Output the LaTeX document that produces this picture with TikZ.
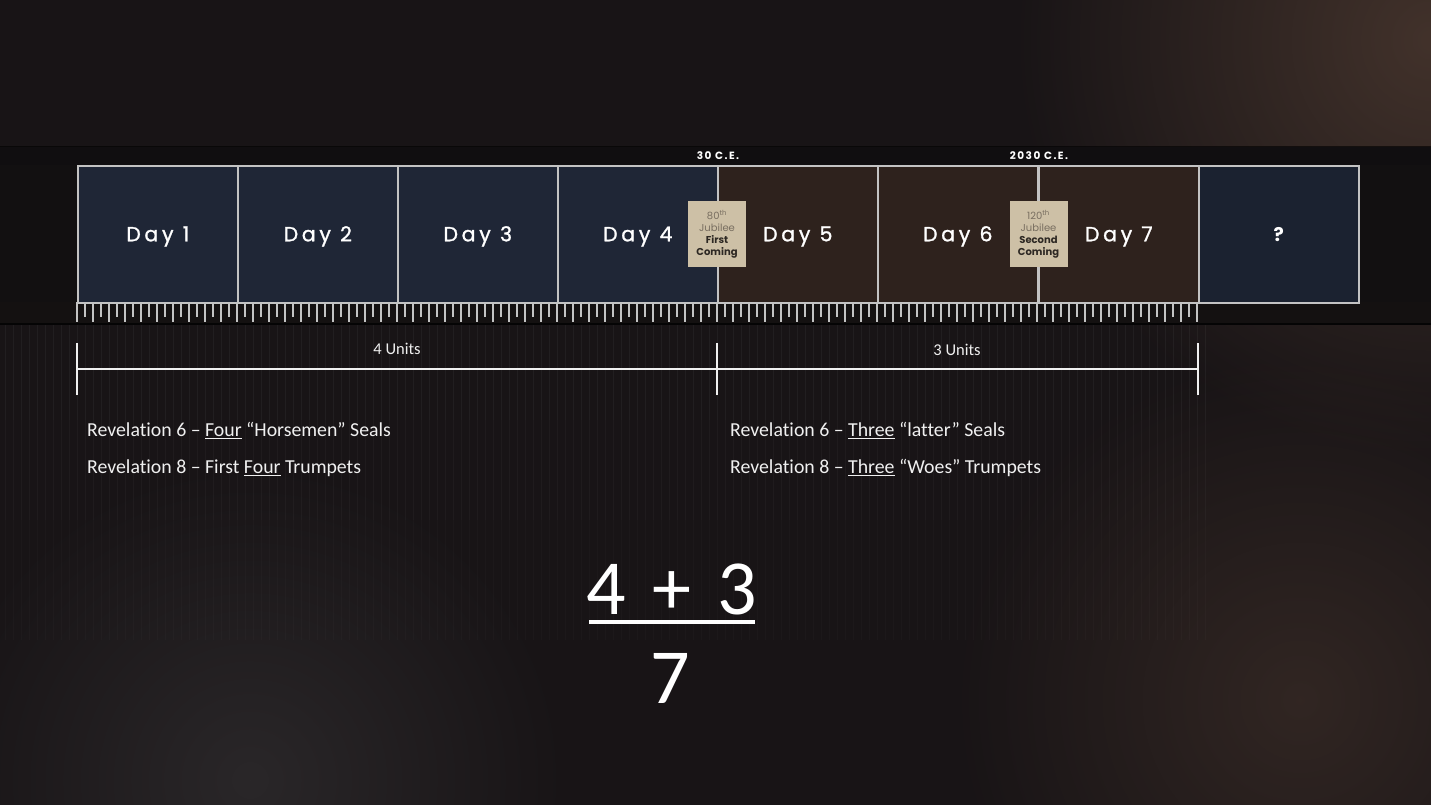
\documentclass[tikz,border=0pt]{standalone}
\usepackage{fontspec}
\setmainfont[Ligatures={NoCommon}]{Carlito}
\newfontfamily\dayfont[LetterSpace=18,FakeBold=1.2]{Poppins}
\newfontfamily\hdrfont[LetterSpace=14]{Poppins}
\newfontfamily\jubfont{Poppins}
\usetikzlibrary{fadings}
\tikzfading[name=radfade, inner color=transparent!0, outer color=transparent!100]
\definecolor{bgcol}{RGB}{24,20,22}
\definecolor{bandcol}{RGB}{18,16,17}
\definecolor{topstrip}{RGB}{16,14,16}
\definecolor{rulerstrip}{RGB}{20,17,17}
\definecolor{navy}{RGB}{31,38,54}
\definecolor{brownbox}{RGB}{46,34,29}
\definecolor{qnavy}{RGB}{27,34,48}
\definecolor{boxline}{RGB}{195,195,195}
\definecolor{tan}{RGB}{205,192,166}
\definecolor{tangray}{RGB}{120,110,96}
\definecolor{tandark}{RGB}{45,40,35}
\definecolor{txt}{RGB}{240,240,240}
\definecolor{glow}{RGB}{80,60,50}
\definecolor{fog}{RGB}{60,58,60}
\newcommand\myul[1]{\setbox0\hbox{#1}\rlap{\rule[-3.2pt]{\wd0}{1.6pt}}#1}
\begin{document}
\begin{tikzpicture}[x=1pt,y=-1pt,
  daybox/.style={draw=boxline, line width=1.6pt, minimum width=160pt, minimum height=137pt, inner sep=0pt, anchor=north west, text=white, text height=14pt, text depth=0pt, font=\dayfont\fontsize{20.5}{24}\selectfont},
  jub/.style={fill=tan, minimum width=58pt, minimum height=66pt, inner sep=0pt, align=center, font=\jubfont\fontsize{10}{12}\selectfont, text=tangray},
  hdr/.style={text=white, font=\hdrfont\bfseries\fontsize{10.5}{12}\selectfont, inner sep=0pt},
  tick/.style={draw=boxline, line width=1.3pt},
  brack/.style={draw=txt, line width=2.8pt},
  unitlab/.style={text=txt, font=\fontsize{16.5}{20}\selectfont, inner sep=0pt},
  rev/.style={text=txt, font=\fontsize{19.8}{24}\selectfont, inner sep=0pt, anchor=base west},
  big/.style={text=white, font=\fontsize{78}{90}\selectfont, inner sep=0pt, anchor=base}
]
\useasboundingbox (0,0) rectangle (1431,805);
% background
\fill[bgcol] (0,0) rectangle (1431,805);
\fill[glow, path fading=radfade, opacity=0.75] (1431,40) circle (420);
\fill[glow, path fading=radfade, opacity=0.45] (1300,700) circle (350);
\fill[fog, path fading=radfade, opacity=0.5] (250,780) circle (320);
% faint vertical texture
\foreach \i in {0,...,150}{
  \draw[white, opacity=0.045, line width=1pt] (5+8*\i,325) -- (5+8*\i,420);
  \draw[white, opacity=0.03, line width=1pt] (5+8*\i,420) -- (5+8*\i,520);
  \draw[white, opacity=0.018, line width=1pt] (5+8*\i,520) -- (5+8*\i,640);
}
% band
\fill[bandcol] (0,147) rectangle (1431,325);
\fill[topstrip] (0,147) rectangle (1431,165);
\fill[rulerstrip] (0,302) rectangle (1431,324);
\draw[black, opacity=0.6, line width=1pt] (0,147) -- (1431,147);
\draw[black, opacity=0.7, line width=1.2pt] (0,324) -- (1431,324);
% boxes
\node[daybox, fill=navy] (d1) at (77,165) {Day 1};
\node[daybox, fill=navy] (d2) at (237,165) {Day 2};
\node[daybox, fill=navy] (d3) at (397,165) {Day 3};
\node[daybox, fill=navy] (d4) at (557,165) {Day 4};
\node[daybox, fill=brownbox] (d5) at (717,165) {Day 5};
\node[daybox, fill=brownbox] (d6) at (877,165) {Day 6};
\node[daybox, fill=brownbox] (d7) at (1038,165) {Day 7};
\node[daybox, fill=qnavy, font=\jubfont\bfseries\fontsize{19}{22}\selectfont] (dq) at (1198,165) {?};
% jubilee boxes
\node[jub] (j1) at (717,234) {80\textsuperscript{th}\\Jubilee\\{\color{tandark}\bfseries First}\\{\color{tandark}\bfseries Coming}};
\node[jub] (j2) at (1038.5,234) {120\textsuperscript{th}\\Jubilee\\{\color{tandark}\bfseries Second}\\{\color{tandark}\bfseries Coming}};
% headers
\node[hdr] (h1) at (718,156) {30 C.E.};
\node[hdr] (h2) at (1039,156) {2030 C.E.};
% ruler ticks
\foreach \i in {0,...,140}{
  \ifodd\i
    \draw[tick] (77+8*\i,302) -- (77+8*\i,317);
  \else
    \draw[tick] (77+8*\i,302) -- (77+8*\i,322);
  \fi
}
% bracket
\coordinate (bL) at (77,369);
\coordinate (bM) at (717,369);
\coordinate (bR) at (1198,369);
\draw[brack] (bL) -- (bR);
\draw[brack] ([yshift=-26pt]bL) -- ([yshift=26pt]bL);
\draw[brack] ([yshift=-26pt]bM) -- ([yshift=26pt]bM);
\draw[brack] ([yshift=-26pt]bR) -- ([yshift=26pt]bR);
\node[unitlab] (u4) at (397,349) {4 Units};
\node[unitlab] (u3) at (957,350) {3 Units};
% revelation texts
\node[rev] (r1) at (87,436) {Revelation 6 – \myul{Four} “Horsemen” Seals};
\node[rev] (r2) at (87,473) {Revelation 8 – First \myul{Four} Trumpets};
\node[rev] (r3) at (730,436) {Revelation 6 – \myul{Three} “latter” Seals};
\node[rev] (r4) at (730,473) {Revelation 8 – \myul{Three} “Woes” Trumpets};
% fraction
\node[big] (n4) at (606,614) {4};
\node[big] (np) at (672,614) {+};
\node[big] (n3) at (737,614) {3};
\coordinate (fL) at (589,622);
\coordinate (fR) at (755,622);
\draw[draw=white, line width=4pt] (fL) -- (fR);
\node[big] (n7) at (670,703) {7};
\end{tikzpicture}
\end{document}
